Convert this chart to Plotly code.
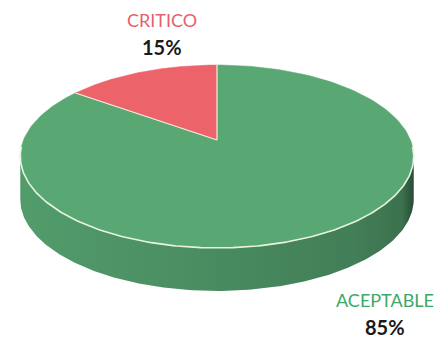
import numpy as np
import plotly.graph_objects as go

# ---- data ----
categories = ["ACEPTABLE", "CRITICO"]
values = [85, 15]
pct_labels = ["85%", "15%"]

# ---- style ----
top_colors = [(89, 168, 116), (236, 100, 106)]
label_colors = ["#3da867", "#e8606c"]

# projection of the tilted disk (pixel-space axes)
CX, CY = 217.0, 140.0
RX, RY = 193.5, 88.5
D = 5.55
DEPTH = 43.0
OFF = 8  # page body margin


def proj(phi_deg, drop=0.0):
    p = np.radians(phi_deg)
    X = np.sin(p)
    Y = -np.cos(p)
    f = D / (D - Y)
    return CX + RX * X * f, CY + RY * Y * f + drop


total = float(sum(values))
bounds = np.concatenate([[0.0], np.cumsum(values) / total * 360.0])


def rgb(c, k=1.0):
    return "rgb(%d,%d,%d)" % tuple(int(max(0, min(255, v * k))) for v in c)


fig = go.Figure()

# silhouette angles (extreme x)
phis = np.linspace(0, 360, 3601)
xs, _ = proj(phis)
phi_r = phis[np.argmax(xs)]
phi_l = phis[np.argmin(xs)]

# side wall, one polygon per slice part that faces the viewer
for i in range(len(values)):
    a = max(bounds[i], phi_r)
    b = min(bounds[i + 1], phi_l)
    if b <= a:
        continue
    seg = np.linspace(a, b, 200)
    tx, ty = proj(seg)
    bx, by = proj(seg[::-1], DEPTH)
    c = top_colors[i]
    fig.add_trace(go.Scatter(
        x=np.concatenate([tx, bx, tx[:1]]), y=np.concatenate([ty, by, ty[:1]]),
        mode="lines", fill="toself",
        fillgradient=dict(type="horizontal", colorscale=[
            [0.0, rgb(c, 0.93)], [0.45, rgb(c, 0.84)], [0.85, rgb(c, 0.75)],
            [0.97, rgb(c, 0.68)], [1.0, rgb(c, 0.45)]]),
        line=dict(width=0), hoverinfo="skip", showlegend=False))

# top face wedges
for i, (cat, v) in enumerate(zip(categories, values)):
    arc = np.linspace(bounds[i], bounds[i + 1], 200)
    ax_, ay_ = proj(arc)
    x = np.concatenate([[CX], ax_, [CX]])
    y = np.concatenate([[CY], ay_, [CY]])
    fig.add_trace(go.Scatter(
        x=x, y=y, mode="lines", fill="toself", fillcolor=rgb(top_colors[i]),
        line=dict(color=rgb(top_colors[i]), width=0.5),
        name=cat, hoverinfo="name", showlegend=False))

# light rim on the front edge of the top face
rim = np.linspace(phi_r - 6, phi_l + 6, 200)
rx_, ry_ = proj(rim)
fig.add_trace(go.Scatter(x=rx_, y=ry_, mode="lines",
                         line=dict(color="rgba(238,248,228,0.95)", width=1.6),
                         hoverinfo="skip", showlegend=False))

# separators between slices
for bnd in bounds[:-1]:
    sx, sy = proj(np.array([bnd]))
    fig.add_trace(go.Scatter(x=[CX, sx[0]], y=[CY, sy[0]], mode="lines",
                             line=dict(color="rgba(245,245,225,0.95)", width=1.2),
                             hoverinfo="skip", showlegend=False))

# labels
label_pos = {"CRITICO": (162, 20), "ACEPTABLE": (385, 300)}
for i, cat in enumerate(categories):
    lx, ly = label_pos[cat]
    fig.add_annotation(x=lx, y=ly, xref="x", yref="y", text=cat, showarrow=False,
                       font=dict(family="Lato, Open Sans, sans-serif", size=18,
                                 color=label_colors[i]))
    fig.add_annotation(x=lx, y=ly + 27, xref="x", yref="y", text="<b>%s</b>" % pct_labels[i],
                       showarrow=False,
                       font=dict(family="Lato, Open Sans, sans-serif", size=20,
                                 color="#1a1a1a"))

fig.update_layout(
    width=444 - OFF, height=339 - OFF,
    margin=dict(l=0, r=0, t=0, b=0),
    paper_bgcolor="white", plot_bgcolor="white",
    xaxis=dict(range=[OFF, 444], visible=False, fixedrange=True),
    yaxis=dict(range=[339, OFF], visible=False, fixedrange=True),
    showlegend=False,
)

fig.write_html("out.html")
